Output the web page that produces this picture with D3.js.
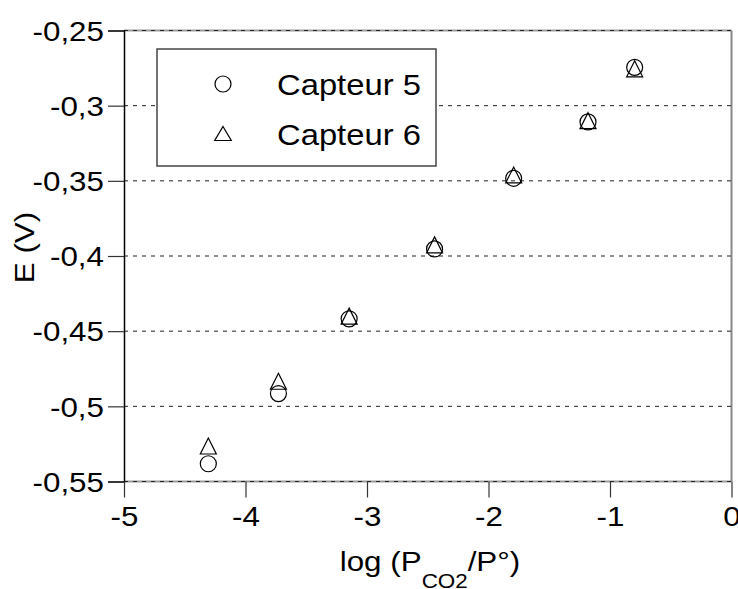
<!DOCTYPE html>
<html><head><meta charset="utf-8">
<script src="https://cdn.jsdelivr.net/npm/d3@7"></script>
<style>body{margin:0;background:#fff}text{font-family:"Liberation Sans",Arial,sans-serif;fill:#000}</style>
</head><body>
<svg id="c" width="738" height="589"></svg>
<script>
// ---- data ----
const logP = [-4.306, -3.729, -3.147, -2.444, -1.793, -1.181, -0.797];
const capteur5 = [-0.5382, -0.4915, -0.4418, -0.3953, -0.3483, -0.3108, -0.2745];
const capteur6 = [-0.5264, -0.4833, -0.4400, -0.3926, -0.3461, -0.3100, -0.2755];
const xTicks = [-5, -4, -3, -2, -1, 0];
const yTicks = [-0.55, -0.5, -0.45, -0.4, -0.35, -0.3, -0.25];
const seriesNames = ["Capteur 5", "Capteur 6"];

const FS = 28, SX = 1.12;
const svg = d3.select("#c");
const x = d3.scaleLinear().domain([-5, 0]).range([124, 731.5]);
const y = d3.scaleLinear().domain([-0.55, -0.25]).range([481.5, 30.5]);
const loc = d3.formatLocale({decimal: ",", thousands: ".", grouping: [3], currency: ["", ""], minus: "-"});
const fmt = loc.format("~g");

// gray frame lines (top, bottom, right)
svg.append("line").attr("x1", x(-5)).attr("x2", x(0)).attr("y1", y(-0.25)).attr("y2", y(-0.25))
  .attr("stroke", "#9a9a9a").attr("stroke-width", 2);
svg.append("line").attr("x1", x(-5)).attr("x2", x(0)).attr("y1", y(-0.55)).attr("y2", y(-0.55))
  .attr("stroke", "#9a9a9a").attr("stroke-width", 2);
svg.append("line").attr("x1", x(0)).attr("x2", x(0)).attr("y1", y(-0.25)).attr("y2", y(-0.55))
  .attr("stroke", "#888").attr("stroke-width", 2);

// dashed gridlines
svg.append("g").selectAll("line").data(yTicks).join("line")
  .attr("x1", x(-5)).attr("x2", x(0)).attr("y1", d => y(d)).attr("y2", d => y(d))
  .attr("stroke", "#222").attr("stroke-width", 1).attr("stroke-dasharray", "4,5");

// y axis
const gy = svg.append("g").attr("transform", `translate(${x(-5)},0)`)
  .call(d3.axisLeft(y).tickValues(yTicks).tickFormat(fmt).tickSize(16).tickPadding(4));
gy.select(".domain").attr("stroke", "#000").attr("stroke-width", 1.5);
gy.selectAll(".tick line").attr("stroke", "#333").attr("stroke-width", 1.2);
gy.selectAll(".tick text").attr("font-size", FS).attr("font-family", null)
  .attr("x", -20 / SX).attr("dy", "0.35em").attr("transform", `scale(${SX},1)`);

// x axis
const gx = svg.append("g").attr("transform", `translate(0,${y(-0.55)})`)
  .call(d3.axisBottom(x).tickValues(xTicks).tickFormat(loc.format("d")).tickSize(16).tickPadding(6));
gx.select(".domain").remove();
gx.selectAll(".tick line").attr("stroke", "#333").attr("stroke-width", 1.2);
gx.selectAll(".tick text").attr("font-size", FS).attr("font-family", null)
  .attr("y", 45).attr("dy", 0).attr("transform", `scale(${SX},1)`);

// axis titles
svg.append("text").attr("transform", `translate(34,247.5) rotate(-90) scale(${SX},1)`)
  .attr("text-anchor", "middle").attr("font-size", FS).text("E (V)");
const xt = svg.append("text").attr("transform", `translate(430,571) scale(${SX},1)`)
  .attr("text-anchor", "middle").attr("font-size", FS);
xt.append("tspan").text("log (P");
xt.append("tspan").attr("font-size", 20).attr("dy", 17).text("CO2");
xt.append("tspan").attr("dy", -17).text("/P°)");

// markers
const tri = (cx, cy, w, h) => `M${cx},${cy - h / 2}L${cx + w / 2},${cy + h / 2}L${cx - w / 2},${cy + h / 2}Z`;
svg.append("g").selectAll("circle").data(logP).join("circle")
  .attr("cx", d => x(d)).attr("cy", (d, i) => y(capteur5[i])).attr("r", 8)
  .attr("fill", "none").attr("stroke", "#000").attr("stroke-width", 1.2);
svg.append("g").selectAll("path").data(logP).join("path")
  .attr("d", (d, i) => tri(x(d), y(capteur6[i]), 16, 16))
  .attr("fill", "none").attr("stroke", "#000").attr("stroke-width", 1.2);

// legend
const lg = svg.append("g");
lg.append("rect").attr("x", 157).attr("y", 49).attr("width", 279).attr("height", 117)
  .attr("fill", "#fff").attr("stroke", "#444").attr("stroke-width", 1.5);
lg.append("circle").attr("cx", 223).attr("cy", 84).attr("r", 8)
  .attr("fill", "none").attr("stroke", "#000").attr("stroke-width", 1.2);
lg.append("path").attr("d", tri(223, 133.5, 16.5, 14))
  .attr("fill", "none").attr("stroke", "#000").attr("stroke-width", 1.2);
seriesNames.forEach((n, i) => {
  lg.append("text").attr("transform", `translate(277,${94.5 + i * 50}) scale(1.13,1)`)
    .attr("font-size", 29).text(n);
});
</script>
</body></html>
